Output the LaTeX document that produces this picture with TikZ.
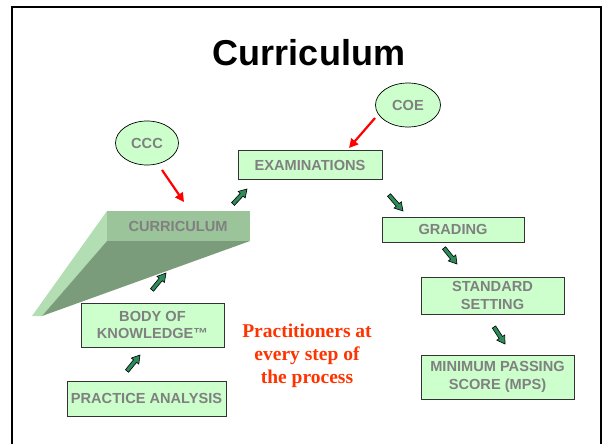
\documentclass[tikz,border=0pt]{standalone}
\usepackage{fontspec}
\setmainfont{Liberation Serif}
\setsansfont{Liberation Sans}
\usepackage{xcolor}
\usetikzlibrary{shapes.geometric, arrows.meta, calc}

\definecolor{boxgreen}{HTML}{CCFFCC}
\definecolor{labelgray}{HTML}{808080}
\definecolor{arrowgreen}{HTML}{2E8B5A}
\definecolor{facetop}{HTML}{9BC49B}
\definecolor{faceside}{HTML}{B3DEB3}
\definecolor{facefront}{HTML}{7A9C7A}
\definecolor{notered}{HTML}{FF3300}

\tikzset{
  stage/.style={draw=black!80, line width=0.9pt, fill=boxgreen, inner sep=0pt,
    align=center, text=labelgray, font=\sffamily\bfseries\fontsize{14.6}{17.5}\selectfont},
  board/.style={ellipse, draw=black, line width=0.7pt, fill=boxgreen, inner sep=0pt,
    text=labelgray, font=\sffamily\bfseries\fontsize{14.6}{17.5}\selectfont},
  redarrow/.style={draw=red, line width=2.2pt, -{Triangle[length=9pt,width=9pt]}},
  greenarrow/.style={draw=black, line width=0.6pt, fill=arrowgreen,
    to path={
      ($(\tikztostart)!2pt!90:(\tikztotarget)$)
      -- ($(\tikztostart)!0.62!(\tikztotarget)!2pt!90:(\tikztotarget)$)
      -- ($(\tikztostart)!0.62!(\tikztotarget)!4.8pt!90:(\tikztotarget)$)
      -- (\tikztotarget)
      -- ($(\tikztostart)!0.62!(\tikztotarget)!4.8pt!-90:(\tikztotarget)$)
      -- ($(\tikztostart)!0.62!(\tikztotarget)!2pt!-90:(\tikztotarget)$)
      -- ($(\tikztostart)!2pt!-90:(\tikztotarget)$) -- cycle}}
}

\begin{document}
\begin{tikzpicture}[x=1pt, y=-1pt]
    \useasboundingbox[fill=white] (0,0) rectangle (602,444);
    % slide frame
    \draw[line width=2pt] (12,444) -- (12,7) -- (601,7) -- (601,444);

    \node[font=\sffamily\bfseries\fontsize{36}{40}\selectfont, anchor=base] (title) at (309,66) {Curriculum};

    % curriculum wedge
    \fill[faceside] (107,211) -- (107,241) -- (42,316) -- (32,316) -- cycle;
    \fill[facefront] (107,241) -- (250,241) -- (42,316) -- cycle;
    \fill[facetop] (107,211) rectangle (250,241);
    \node[text=labelgray, font=\sffamily\bfseries\fontsize{14.6}{17.5}\selectfont] (curriculum) at (178,226) {CURRICULUM};

    % boards
    \node[board, minimum width=63pt, minimum height=44pt] (ccc) at (147,143) {CCC};
    \node[board, minimum width=65pt, minimum height=44pt] (coe) at (408,105) {COE};

    % stages
    \node[stage, minimum width=159pt, minimum height=35pt] (pa) at (146.5,398.5) {PRACTICE ANALYSIS};
    \node[stage, minimum width=143pt, minimum height=44pt] (bok) at (152.5,325) {BODY OF\\KNOWLEDGE™};
    \node[stage, minimum width=144pt, minimum height=29pt] (exam) at (310,165) {EXAMINATIONS};
    \node[stage, minimum width=142pt, minimum height=25pt] (grading) at (453,229.5) {GRADING};
    \node[stage, minimum width=143pt, minimum height=37pt] (std) at (492.5,295.5) {STANDARD\\SETTING};
    \node[stage, minimum width=153pt, minimum height=44pt] (mps) at (497.5,377) {MINIMUM PASSING\\SCORE (MPS)};

    \node[text=notered, align=center, font=\rmfamily\bfseries\fontsize{19.5}{23}\selectfont] (note) at (307,355.5)
        {Practitioners at\\every step of\\the process};

    % arrow ends
    \coordinate (pa-out) at (127,371);   \coordinate (bok-in) at (140,355);
    \coordinate (bok-out) at (152,290);  \coordinate (cur-in) at (166,273);
    \coordinate (cur-out) at (233,204);  \coordinate (exam-in) at (247,189);
    \coordinate (exam-out) at (389,195); \coordinate (grad-in) at (403,211);
    \coordinate (grad-out) at (444,248); \coordinate (std-in) at (457,264);
    \coordinate (std-out) at (494,327);  \coordinate (mps-in) at (505,344);
    \coordinate (ccc-out) at (162,170);  \coordinate (cur-top) at (184,202);
    \coordinate (coe-out) at (375,118);  \coordinate (exam-top) at (349,148);

    \draw[greenarrow] (pa-out) to (bok-in);
    \draw[greenarrow] (bok-out) to (cur-in);
    \draw[greenarrow] (cur-out) to (exam-in);
    \draw[greenarrow] (exam-out) to (grad-in);
    \draw[greenarrow] (grad-out) to (std-in);
    \draw[greenarrow] (std-out) to (mps-in);

    \draw[redarrow] (ccc-out) -- (cur-top);
    \draw[redarrow] (coe-out) -- (exam-top);
\end{tikzpicture}
\end{document}
